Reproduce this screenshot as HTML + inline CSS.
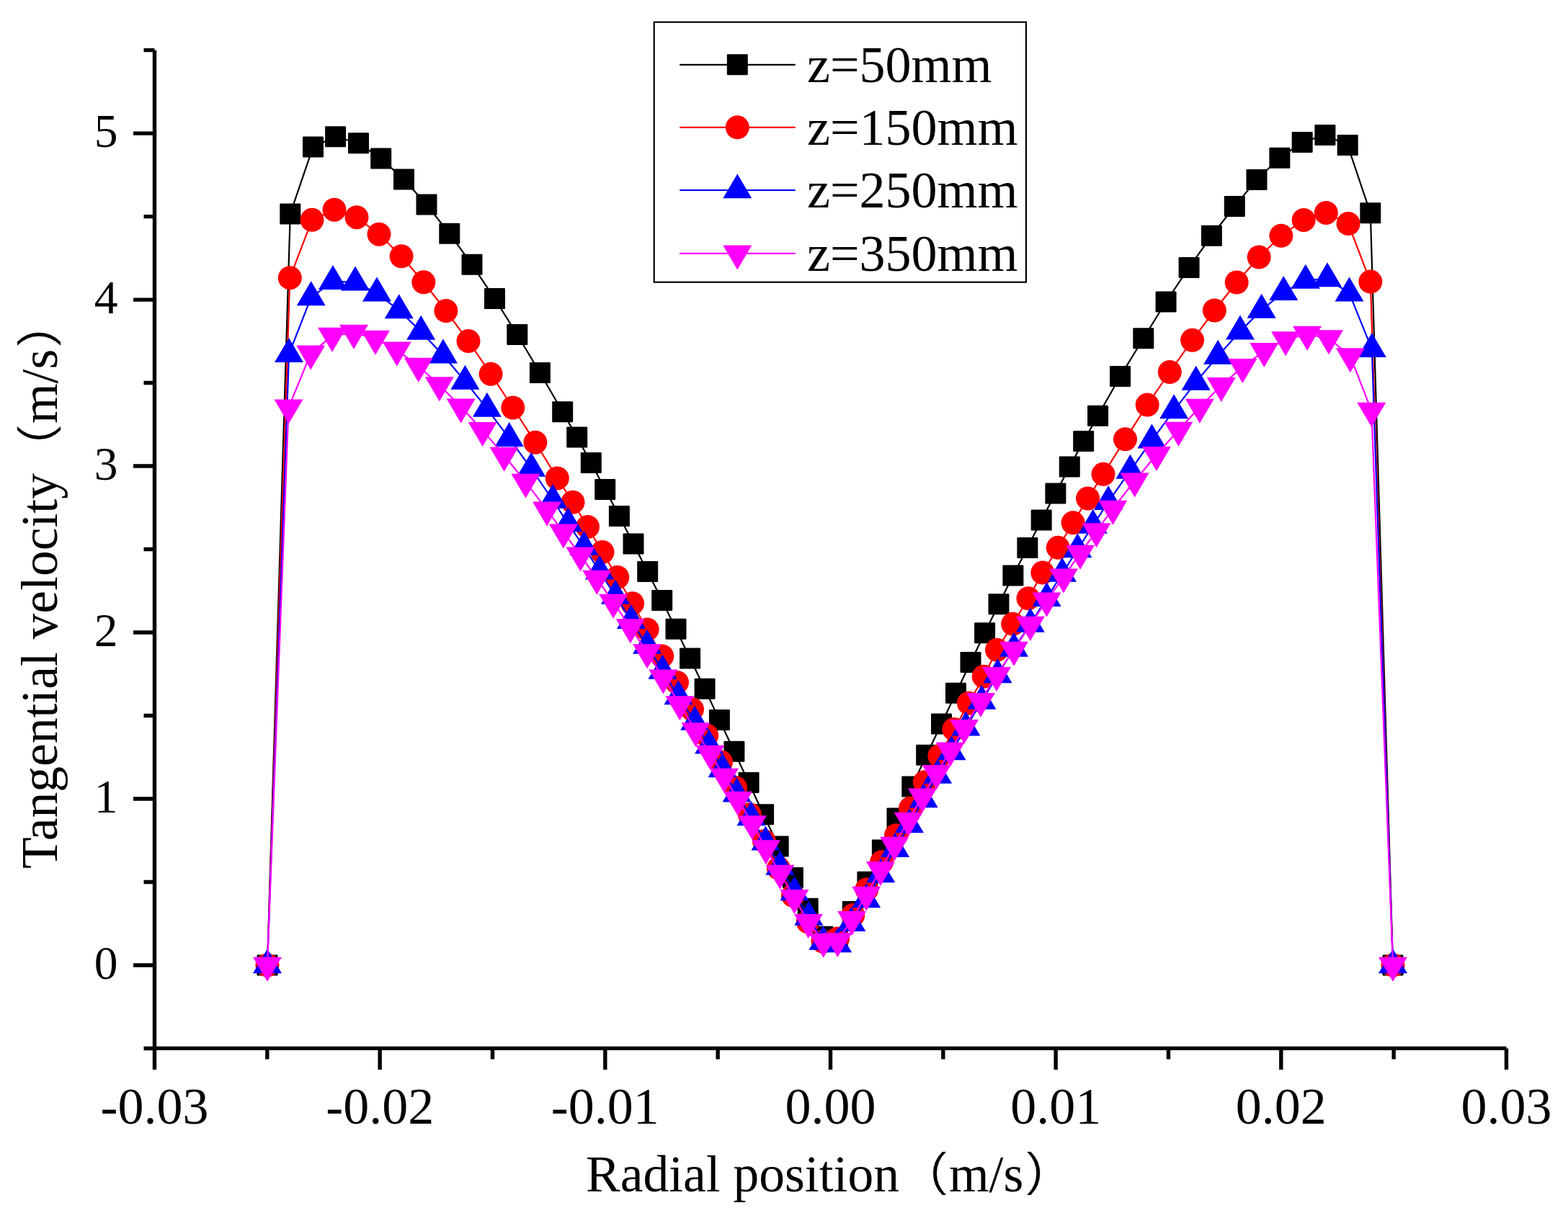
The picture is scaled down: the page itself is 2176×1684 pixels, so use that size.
<!DOCTYPE html>
<html><head><meta charset="utf-8"><title>Tangential velocity</title>
<style>
html,body{margin:0;padding:0;background:#fff;width:2176px;height:1684px;overflow:hidden;}
svg{display:block;}
text{font-family:"Liberation Serif","Times New Roman",serif;fill:#000;}
.cjk{font-family:"IPAGothic","Noto Serif CJK SC",sans-serif;font-size:67px;}
</style></head><body>
<svg width="2176" height="1684" viewBox="0 0 2176 1684">
<rect width="2176" height="1684" fill="#fff"/>
<path d="M199.5 1455.49H214.5M185 1340H214.5M199.5 1224.51H214.5M185 1109.02H214.5M199.5 993.53H214.5M185 878.04H214.5M199.5 762.55H214.5M185 647.06H214.5M199.5 531.57H214.5M185 416.08H214.5M199.5 300.59H214.5M185 185.1H214.5M199.5 69.61H214.5M214.5 1455.4V1484.9M370.83 1455.4V1470.4M527.17 1455.4V1484.9M683.5 1455.4V1470.4M839.83 1455.4V1484.9M996.17 1455.4V1470.4M1152.5 1455.4V1484.9M1308.83 1455.4V1470.4M1465.17 1455.4V1484.9M1621.5 1455.4V1470.4M1777.84 1455.4V1484.9M1934.17 1455.4V1470.4M2090.5 1455.4V1484.9" stroke="#000" stroke-width="5.4" fill="none"/>
<path d="M214.5 69.8V1458.1 M211.8 1455.4H2090.5" stroke="#000" stroke-width="5.4" fill="none"/>
<text x="163.5" y="1359" font-size="65.5" text-anchor="end">0</text>
<text x="163.5" y="1128.02" font-size="65.5" text-anchor="end">1</text>
<text x="163.5" y="897.04" font-size="65.5" text-anchor="end">2</text>
<text x="163.5" y="666.06" font-size="65.5" text-anchor="end">3</text>
<text x="163.5" y="435.08" font-size="65.5" text-anchor="end">4</text>
<text x="163.5" y="204.1" font-size="65.5" text-anchor="end">5</text>
<text x="214.5" y="1559.7" font-size="72" text-anchor="middle">-0.03</text>
<text x="527.17" y="1559.7" font-size="72" text-anchor="middle">-0.02</text>
<text x="839.83" y="1559.7" font-size="72" text-anchor="middle">-0.01</text>
<text x="1152.5" y="1559.7" font-size="72" text-anchor="middle">0.00</text>
<text x="1465.17" y="1559.7" font-size="72" text-anchor="middle">0.01</text>
<text x="1777.84" y="1559.7" font-size="72" text-anchor="middle">0.02</text>
<text x="2090.5" y="1559.7" font-size="72" text-anchor="middle">0.03</text>
<text transform="translate(78.7 1206) rotate(-90)" font-size="71.5">Tangential velocity<tspan class="cjk" dx="3">（</tspan><tspan dx="-1">m/s</tspan><tspan class="cjk">）</tspan></text>
<text x="813" y="1653.8" font-size="71.5">Radial position<tspan class="cjk" dx="3">（</tspan><tspan dx="-1">m/s</tspan><tspan class="cjk">）</tspan></text>
<polyline points="371,1340 402.8,296.9 434.5,203.9 465.6,189.7 497.5,198.8 528.7,220 560.5,249.1 592,284.1 623.8,324.2 655,367.3 686.5,414.6 717.8,464.5 749.4,517.6 780.7,571.8 800.7,606.9 820.3,642.5 839.7,679.5 859.4,716.6 879,755.1 898.7,793.5 918.7,833.4 938,873.3 957.6,914.1 978.1,956.3 998.4,999.6 1018.9,1043.2 1039.1,1086.5 1059.6,1130.7 1080.2,1174.9 1100.4,1218.5 1121.2,1261.2 1141.9,1300.2 1162.5,1303 1183.3,1265.6 1203.9,1224.2 1224.4,1180 1245,1136.1 1265.8,1091.9 1285.7,1048.3 1306.5,1005 1326.5,962.3 1347,919.5 1366.6,878.8 1386,838.7 1405.9,799 1425.9,760.6 1445.2,722.1 1464.9,685.1 1484.3,648 1503.7,612.4 1523.6,577.3 1554.6,522.5 1586.8,469.7 1618.1,419 1650.1,371.4 1681.4,327.3 1713.3,286.5 1744,249.5 1775.9,219.3 1807.2,197.4 1838.9,187.4 1870.2,201.6 1901.8,295.7 1933,1340" fill="none" stroke="#000000" stroke-width="2.2" stroke-linejoin="round"/>
<g fill="#000000"><rect x="356.5" y="1325.5" width="29" height="29" rx="1.2"/><rect x="388.3" y="282.4" width="29" height="29" rx="1.2"/><rect x="420" y="189.4" width="29" height="29" rx="1.2"/><rect x="451.1" y="175.2" width="29" height="29" rx="1.2"/><rect x="483" y="184.3" width="29" height="29" rx="1.2"/><rect x="514.2" y="205.5" width="29" height="29" rx="1.2"/><rect x="546" y="234.6" width="29" height="29" rx="1.2"/><rect x="577.5" y="269.6" width="29" height="29" rx="1.2"/><rect x="609.3" y="309.7" width="29" height="29" rx="1.2"/><rect x="640.5" y="352.8" width="29" height="29" rx="1.2"/><rect x="672" y="400.1" width="29" height="29" rx="1.2"/><rect x="703.3" y="450" width="29" height="29" rx="1.2"/><rect x="734.9" y="503.1" width="29" height="29" rx="1.2"/><rect x="766.2" y="557.3" width="29" height="29" rx="1.2"/><rect x="786.2" y="592.4" width="29" height="29" rx="1.2"/><rect x="805.8" y="628" width="29" height="29" rx="1.2"/><rect x="825.2" y="665" width="29" height="29" rx="1.2"/><rect x="844.9" y="702.1" width="29" height="29" rx="1.2"/><rect x="864.5" y="740.6" width="29" height="29" rx="1.2"/><rect x="884.2" y="779" width="29" height="29" rx="1.2"/><rect x="904.2" y="818.9" width="29" height="29" rx="1.2"/><rect x="923.5" y="858.8" width="29" height="29" rx="1.2"/><rect x="943.1" y="899.6" width="29" height="29" rx="1.2"/><rect x="963.6" y="941.8" width="29" height="29" rx="1.2"/><rect x="983.9" y="985.1" width="29" height="29" rx="1.2"/><rect x="1004.4" y="1028.7" width="29" height="29" rx="1.2"/><rect x="1024.6" y="1072" width="29" height="29" rx="1.2"/><rect x="1045.1" y="1116.2" width="29" height="29" rx="1.2"/><rect x="1065.7" y="1160.4" width="29" height="29" rx="1.2"/><rect x="1085.9" y="1204" width="29" height="29" rx="1.2"/><rect x="1106.7" y="1246.7" width="29" height="29" rx="1.2"/><rect x="1127.4" y="1285.7" width="29" height="29" rx="1.2"/><rect x="1148" y="1288.5" width="29" height="29" rx="1.2"/><rect x="1168.8" y="1251.1" width="29" height="29" rx="1.2"/><rect x="1189.4" y="1209.7" width="29" height="29" rx="1.2"/><rect x="1209.9" y="1165.5" width="29" height="29" rx="1.2"/><rect x="1230.5" y="1121.6" width="29" height="29" rx="1.2"/><rect x="1251.3" y="1077.4" width="29" height="29" rx="1.2"/><rect x="1271.2" y="1033.8" width="29" height="29" rx="1.2"/><rect x="1292" y="990.5" width="29" height="29" rx="1.2"/><rect x="1312" y="947.8" width="29" height="29" rx="1.2"/><rect x="1332.5" y="905" width="29" height="29" rx="1.2"/><rect x="1352.1" y="864.3" width="29" height="29" rx="1.2"/><rect x="1371.5" y="824.2" width="29" height="29" rx="1.2"/><rect x="1391.4" y="784.5" width="29" height="29" rx="1.2"/><rect x="1411.4" y="746.1" width="29" height="29" rx="1.2"/><rect x="1430.7" y="707.6" width="29" height="29" rx="1.2"/><rect x="1450.4" y="670.6" width="29" height="29" rx="1.2"/><rect x="1469.8" y="633.5" width="29" height="29" rx="1.2"/><rect x="1489.2" y="597.9" width="29" height="29" rx="1.2"/><rect x="1509.1" y="562.8" width="29" height="29" rx="1.2"/><rect x="1540.1" y="508" width="29" height="29" rx="1.2"/><rect x="1572.3" y="455.2" width="29" height="29" rx="1.2"/><rect x="1603.6" y="404.5" width="29" height="29" rx="1.2"/><rect x="1635.6" y="356.9" width="29" height="29" rx="1.2"/><rect x="1666.9" y="312.8" width="29" height="29" rx="1.2"/><rect x="1698.8" y="272" width="29" height="29" rx="1.2"/><rect x="1729.5" y="235" width="29" height="29" rx="1.2"/><rect x="1761.4" y="204.8" width="29" height="29" rx="1.2"/><rect x="1792.7" y="182.9" width="29" height="29" rx="1.2"/><rect x="1824.4" y="172.9" width="29" height="29" rx="1.2"/><rect x="1855.7" y="187.1" width="29" height="29" rx="1.2"/><rect x="1887.3" y="281.2" width="29" height="29" rx="1.2"/><rect x="1918.5" y="1325.5" width="29" height="29" rx="1.2"/></g>
<polyline points="371,1340 402.3,385.7 433,305.3 464,291.2 495,301.7 526,325.2 557.1,355.8 587.9,391.8 618.9,431.5 650,473.6 681.1,519.2 711.8,566 742.9,614.2 773.3,663.9 795,697.2 815.5,731.4 836,766.5 856.8,801.5 877.6,837.7 898.1,873.9 918.7,910.9 939.5,947.4 960.5,984.8 980.7,1021 1000.6,1058 1020.6,1093.6 1040.3,1130.7 1060.5,1167.7 1080.4,1205.3 1100.4,1243.3 1121.2,1279.8 1142,1307 1162.6,1303 1183.8,1270.4 1202.8,1234.7 1223.6,1196.8 1243.5,1159.7 1263.5,1122.1 1283.4,1085.7 1303.9,1049.5 1323.9,1012.4 1344.4,976.2 1365.2,939.2 1383.5,902.3 1405.6,866.3 1427,830.7 1446.9,795.1 1468.3,760.3 1489.1,725.8 1509.6,691.9 1531,658.3 1561.5,609.8 1592.2,562.1 1623.3,516.5 1654.6,472.3 1685.4,431 1716.2,392 1747.2,357 1777.9,327.3 1809.2,305.4 1840.3,295.4 1871.1,310.5 1901.8,391.1 1933,1340" fill="none" stroke="#ff0000" stroke-width="2.2" stroke-linejoin="round"/>
<g fill="#ff0000"><circle cx="371" cy="1340" r="16.5"/><circle cx="402.3" cy="385.7" r="16.5"/><circle cx="433" cy="305.3" r="16.5"/><circle cx="464" cy="291.2" r="16.5"/><circle cx="495" cy="301.7" r="16.5"/><circle cx="526" cy="325.2" r="16.5"/><circle cx="557.1" cy="355.8" r="16.5"/><circle cx="587.9" cy="391.8" r="16.5"/><circle cx="618.9" cy="431.5" r="16.5"/><circle cx="650" cy="473.6" r="16.5"/><circle cx="681.1" cy="519.2" r="16.5"/><circle cx="711.8" cy="566" r="16.5"/><circle cx="742.9" cy="614.2" r="16.5"/><circle cx="773.3" cy="663.9" r="16.5"/><circle cx="795" cy="697.2" r="16.5"/><circle cx="815.5" cy="731.4" r="16.5"/><circle cx="836" cy="766.5" r="16.5"/><circle cx="856.8" cy="801.5" r="16.5"/><circle cx="877.6" cy="837.7" r="16.5"/><circle cx="898.1" cy="873.9" r="16.5"/><circle cx="918.7" cy="910.9" r="16.5"/><circle cx="939.5" cy="947.4" r="16.5"/><circle cx="960.5" cy="984.8" r="16.5"/><circle cx="980.7" cy="1021" r="16.5"/><circle cx="1000.6" cy="1058" r="16.5"/><circle cx="1020.6" cy="1093.6" r="16.5"/><circle cx="1040.3" cy="1130.7" r="16.5"/><circle cx="1060.5" cy="1167.7" r="16.5"/><circle cx="1080.4" cy="1205.3" r="16.5"/><circle cx="1100.4" cy="1243.3" r="16.5"/><circle cx="1121.2" cy="1279.8" r="16.5"/><circle cx="1142" cy="1307" r="16.5"/><circle cx="1162.6" cy="1303" r="16.5"/><circle cx="1183.8" cy="1270.4" r="16.5"/><circle cx="1202.8" cy="1234.7" r="16.5"/><circle cx="1223.6" cy="1196.8" r="16.5"/><circle cx="1243.5" cy="1159.7" r="16.5"/><circle cx="1263.5" cy="1122.1" r="16.5"/><circle cx="1283.4" cy="1085.7" r="16.5"/><circle cx="1303.9" cy="1049.5" r="16.5"/><circle cx="1323.9" cy="1012.4" r="16.5"/><circle cx="1344.4" cy="976.2" r="16.5"/><circle cx="1365.2" cy="939.2" r="16.5"/><circle cx="1383.5" cy="902.3" r="16.5"/><circle cx="1405.6" cy="866.3" r="16.5"/><circle cx="1427" cy="830.7" r="16.5"/><circle cx="1446.9" cy="795.1" r="16.5"/><circle cx="1468.3" cy="760.3" r="16.5"/><circle cx="1489.1" cy="725.8" r="16.5"/><circle cx="1509.6" cy="691.9" r="16.5"/><circle cx="1531" cy="658.3" r="16.5"/><circle cx="1561.5" cy="609.8" r="16.5"/><circle cx="1592.2" cy="562.1" r="16.5"/><circle cx="1623.3" cy="516.5" r="16.5"/><circle cx="1654.6" cy="472.3" r="16.5"/><circle cx="1685.4" cy="431" r="16.5"/><circle cx="1716.2" cy="392" r="16.5"/><circle cx="1747.2" cy="357" r="16.5"/><circle cx="1777.9" cy="327.3" r="16.5"/><circle cx="1809.2" cy="305.4" r="16.5"/><circle cx="1840.3" cy="295.4" r="16.5"/><circle cx="1871.1" cy="310.5" r="16.5"/><circle cx="1901.8" cy="391.1" r="16.5"/><circle cx="1933" cy="1340" r="16.5"/></g>
<polyline points="371,1340 401,491.7 431.7,412.9 462,390.7 493,392.1 523,407.1 553.7,430.8 584.2,460.4 615,493.2 645.4,529.4 675.9,567.3 706.7,608.6 737.2,650.5 767,694.3 788.4,726.8 810.4,759.5 832,793.2 854,827.4 875.9,861.6 898.1,896.3 919.5,931.4 941.5,966.8 964.2,1002.4 984.1,1035.2 1002.6,1068 1022.6,1102.2 1042.5,1135 1062.5,1169.2 1082.4,1203.3 1102.4,1239 1122.3,1273.5 1142.4,1307.5 1162.2,1310.9 1181.4,1281.7 1202.2,1249 1222.2,1213.9 1242.1,1178.6 1262,1144.9 1281.7,1109.9 1301.1,1076.5 1320.5,1043.8 1340.4,1010.1 1362.4,973.4 1384.5,937 1407,900.5 1429.8,866.3 1452.6,830.7 1474,796.5 1495.4,762.9 1516.8,729.5 1538.1,696.7 1568.5,653.5 1598.5,611.1 1629.2,569.8 1659.7,530.4 1690.2,494.3 1721,460.1 1750.7,430.3 1781.3,405.7 1811.8,389.4 1842,386.9 1872.5,407.1 1903.8,484.7 1933,1340" fill="none" stroke="#0000ff" stroke-width="2.2" stroke-linejoin="round"/>
<g fill="#0000ff"><polygon points="371,1317.33 391,1351.33 351,1351.33"/><polygon points="401,469.03 421,503.03 381,503.03"/><polygon points="431.7,390.23 451.7,424.23 411.7,424.23"/><polygon points="462,368.03 482,402.03 442,402.03"/><polygon points="493,369.43 513,403.43 473,403.43"/><polygon points="523,384.43 543,418.43 503,418.43"/><polygon points="553.7,408.13 573.7,442.13 533.7,442.13"/><polygon points="584.2,437.73 604.2,471.73 564.2,471.73"/><polygon points="615,470.53 635,504.53 595,504.53"/><polygon points="645.4,506.73 665.4,540.73 625.4,540.73"/><polygon points="675.9,544.63 695.9,578.63 655.9,578.63"/><polygon points="706.7,585.93 726.7,619.93 686.7,619.93"/><polygon points="737.2,627.83 757.2,661.83 717.2,661.83"/><polygon points="767,671.63 787,705.63 747,705.63"/><polygon points="788.4,704.13 808.4,738.13 768.4,738.13"/><polygon points="810.4,736.83 830.4,770.83 790.4,770.83"/><polygon points="832,770.53 852,804.53 812,804.53"/><polygon points="854,804.73 874,838.73 834,838.73"/><polygon points="875.9,838.93 895.9,872.93 855.9,872.93"/><polygon points="898.1,873.63 918.1,907.63 878.1,907.63"/><polygon points="919.5,908.73 939.5,942.73 899.5,942.73"/><polygon points="941.5,944.13 961.5,978.13 921.5,978.13"/><polygon points="964.2,979.73 984.2,1013.73 944.2,1013.73"/><polygon points="984.1,1012.53 1004.1,1046.53 964.1,1046.53"/><polygon points="1002.6,1045.33 1022.6,1079.33 982.6,1079.33"/><polygon points="1022.6,1079.53 1042.6,1113.53 1002.6,1113.53"/><polygon points="1042.5,1112.33 1062.5,1146.33 1022.5,1146.33"/><polygon points="1062.5,1146.53 1082.5,1180.53 1042.5,1180.53"/><polygon points="1082.4,1180.63 1102.4,1214.63 1062.4,1214.63"/><polygon points="1102.4,1216.33 1122.4,1250.33 1082.4,1250.33"/><polygon points="1122.3,1250.83 1142.3,1284.83 1102.3,1284.83"/><polygon points="1142.4,1284.83 1162.4,1318.83 1122.4,1318.83"/><polygon points="1162.2,1288.23 1182.2,1322.23 1142.2,1322.23"/><polygon points="1181.4,1259.03 1201.4,1293.03 1161.4,1293.03"/><polygon points="1202.2,1226.33 1222.2,1260.33 1182.2,1260.33"/><polygon points="1222.2,1191.23 1242.2,1225.23 1202.2,1225.23"/><polygon points="1242.1,1155.93 1262.1,1189.93 1222.1,1189.93"/><polygon points="1262,1122.23 1282,1156.23 1242,1156.23"/><polygon points="1281.7,1087.23 1301.7,1121.23 1261.7,1121.23"/><polygon points="1301.1,1053.83 1321.1,1087.83 1281.1,1087.83"/><polygon points="1320.5,1021.13 1340.5,1055.13 1300.5,1055.13"/><polygon points="1340.4,987.43 1360.4,1021.43 1320.4,1021.43"/><polygon points="1362.4,950.73 1382.4,984.73 1342.4,984.73"/><polygon points="1384.5,914.33 1404.5,948.33 1364.5,948.33"/><polygon points="1407,877.83 1427,911.83 1387,911.83"/><polygon points="1429.8,843.63 1449.8,877.63 1409.8,877.63"/><polygon points="1452.6,808.03 1472.6,842.03 1432.6,842.03"/><polygon points="1474,773.83 1494,807.83 1454,807.83"/><polygon points="1495.4,740.23 1515.4,774.23 1475.4,774.23"/><polygon points="1516.8,706.83 1536.8,740.83 1496.8,740.83"/><polygon points="1538.1,674.03 1558.1,708.03 1518.1,708.03"/><polygon points="1568.5,630.83 1588.5,664.83 1548.5,664.83"/><polygon points="1598.5,588.43 1618.5,622.43 1578.5,622.43"/><polygon points="1629.2,547.13 1649.2,581.13 1609.2,581.13"/><polygon points="1659.7,507.73 1679.7,541.73 1639.7,541.73"/><polygon points="1690.2,471.63 1710.2,505.63 1670.2,505.63"/><polygon points="1721,437.43 1741,471.43 1701,471.43"/><polygon points="1750.7,407.63 1770.7,441.63 1730.7,441.63"/><polygon points="1781.3,383.03 1801.3,417.03 1761.3,417.03"/><polygon points="1811.8,366.73 1831.8,400.73 1791.8,400.73"/><polygon points="1842,364.23 1862,398.23 1822,398.23"/><polygon points="1872.5,384.43 1892.5,418.43 1852.5,418.43"/><polygon points="1903.8,462.03 1923.8,496.03 1883.8,496.03"/><polygon points="1933,1317.33 1953,1351.33 1913,1351.33"/></g>
<polyline points="371,1340 400.5,565.9 431.2,490.8 461,466.2 491,462 521,470.1 550.8,485.8 580.8,508.2 609.8,534.7 639.7,564.8 669.7,597.4 699.6,632.2 729.5,669.2 759,707.8 781.9,738.9 805.5,770.9 828.3,803 851.1,836.1 874.8,870.7 898.1,905.6 920.4,940.9 943.4,977.6 965.6,1014.7 985.5,1046 1005,1078 1024,1110.2 1044,1143.5 1063,1177.7 1082.4,1212.2 1102.4,1246.4 1121.8,1280.3 1142.7,1307 1162.4,1306.4 1182.2,1276.3 1202.2,1242 1221.9,1207.3 1241.2,1173.1 1260.6,1139 1280,1105.9 1299.7,1073.4 1318.8,1041.8 1338.1,1010.4 1360.9,973.4 1383,937.3 1407,902.2 1429.8,867.2 1452.6,833.8 1476,800.8 1499.1,768 1521.6,737.5 1544.4,706.1 1574.6,667.8 1605,631.3 1635.5,597.1 1664.9,565.2 1694.8,535.3 1724.4,509.4 1754.3,487.3 1784.1,471.5 1814.1,464.1 1844,469.5 1873.9,494.6 1903.3,570.1 1933,1340" fill="none" stroke="#ff00ff" stroke-width="2.2" stroke-linejoin="round"/>
<g fill="#ff00ff"><polygon points="371,1362.67 391,1328.67 351,1328.67"/><polygon points="400.5,588.57 420.5,554.57 380.5,554.57"/><polygon points="431.2,513.47 451.2,479.47 411.2,479.47"/><polygon points="461,488.87 481,454.87 441,454.87"/><polygon points="491,484.67 511,450.67 471,450.67"/><polygon points="521,492.77 541,458.77 501,458.77"/><polygon points="550.8,508.47 570.8,474.47 530.8,474.47"/><polygon points="580.8,530.87 600.8,496.87 560.8,496.87"/><polygon points="609.8,557.37 629.8,523.37 589.8,523.37"/><polygon points="639.7,587.47 659.7,553.47 619.7,553.47"/><polygon points="669.7,620.07 689.7,586.07 649.7,586.07"/><polygon points="699.6,654.87 719.6,620.87 679.6,620.87"/><polygon points="729.5,691.87 749.5,657.87 709.5,657.87"/><polygon points="759,730.47 779,696.47 739,696.47"/><polygon points="781.9,761.57 801.9,727.57 761.9,727.57"/><polygon points="805.5,793.57 825.5,759.57 785.5,759.57"/><polygon points="828.3,825.67 848.3,791.67 808.3,791.67"/><polygon points="851.1,858.77 871.1,824.77 831.1,824.77"/><polygon points="874.8,893.37 894.8,859.37 854.8,859.37"/><polygon points="898.1,928.27 918.1,894.27 878.1,894.27"/><polygon points="920.4,963.57 940.4,929.57 900.4,929.57"/><polygon points="943.4,1000.27 963.4,966.27 923.4,966.27"/><polygon points="965.6,1037.37 985.6,1003.37 945.6,1003.37"/><polygon points="985.5,1068.67 1005.5,1034.67 965.5,1034.67"/><polygon points="1005,1100.67 1025,1066.67 985,1066.67"/><polygon points="1024,1132.87 1044,1098.87 1004,1098.87"/><polygon points="1044,1166.17 1064,1132.17 1024,1132.17"/><polygon points="1063,1200.37 1083,1166.37 1043,1166.37"/><polygon points="1082.4,1234.87 1102.4,1200.87 1062.4,1200.87"/><polygon points="1102.4,1269.07 1122.4,1235.07 1082.4,1235.07"/><polygon points="1121.8,1302.97 1141.8,1268.97 1101.8,1268.97"/><polygon points="1142.7,1329.67 1162.7,1295.67 1122.7,1295.67"/><polygon points="1162.4,1329.07 1182.4,1295.07 1142.4,1295.07"/><polygon points="1182.2,1298.97 1202.2,1264.97 1162.2,1264.97"/><polygon points="1202.2,1264.67 1222.2,1230.67 1182.2,1230.67"/><polygon points="1221.9,1229.97 1241.9,1195.97 1201.9,1195.97"/><polygon points="1241.2,1195.77 1261.2,1161.77 1221.2,1161.77"/><polygon points="1260.6,1161.67 1280.6,1127.67 1240.6,1127.67"/><polygon points="1280,1128.57 1300,1094.57 1260,1094.57"/><polygon points="1299.7,1096.07 1319.7,1062.07 1279.7,1062.07"/><polygon points="1318.8,1064.47 1338.8,1030.47 1298.8,1030.47"/><polygon points="1338.1,1033.07 1358.1,999.07 1318.1,999.07"/><polygon points="1360.9,996.07 1380.9,962.07 1340.9,962.07"/><polygon points="1383,959.97 1403,925.97 1363,925.97"/><polygon points="1407,924.87 1427,890.87 1387,890.87"/><polygon points="1429.8,889.87 1449.8,855.87 1409.8,855.87"/><polygon points="1452.6,856.47 1472.6,822.47 1432.6,822.47"/><polygon points="1476,823.47 1496,789.47 1456,789.47"/><polygon points="1499.1,790.67 1519.1,756.67 1479.1,756.67"/><polygon points="1521.6,760.17 1541.6,726.17 1501.6,726.17"/><polygon points="1544.4,728.77 1564.4,694.77 1524.4,694.77"/><polygon points="1574.6,690.47 1594.6,656.47 1554.6,656.47"/><polygon points="1605,653.97 1625,619.97 1585,619.97"/><polygon points="1635.5,619.77 1655.5,585.77 1615.5,585.77"/><polygon points="1664.9,587.87 1684.9,553.87 1644.9,553.87"/><polygon points="1694.8,557.97 1714.8,523.97 1674.8,523.97"/><polygon points="1724.4,532.07 1744.4,498.07 1704.4,498.07"/><polygon points="1754.3,509.97 1774.3,475.97 1734.3,475.97"/><polygon points="1784.1,494.17 1804.1,460.17 1764.1,460.17"/><polygon points="1814.1,486.77 1834.1,452.77 1794.1,452.77"/><polygon points="1844,492.17 1864,458.17 1824,458.17"/><polygon points="1873.9,517.27 1893.9,483.27 1853.9,483.27"/><polygon points="1903.3,592.77 1923.3,558.77 1883.3,558.77"/><polygon points="1933,1362.67 1953,1328.67 1913,1328.67"/></g>
<rect x="907.7" y="30.7" width="516.3" height="361" fill="#fff" stroke="#000" stroke-width="2.2"/>
<line x1="944" y1="89.8" x2="1103" y2="89.8" stroke="#000000" stroke-width="2.2" stroke-linecap="round"/>
<g fill="#000000"><rect x="1008.8" y="75.3" width="29" height="29" rx="1.2"/></g>
<text x="1120" y="113.6" font-size="72">z=50mm</text>
<line x1="944" y1="176.8" x2="1103" y2="176.8" stroke="#ff0000" stroke-width="2.2" stroke-linecap="round"/>
<g fill="#ff0000"><circle cx="1023.3" cy="176.8" r="16.5"/></g>
<text x="1120" y="200.6" font-size="72">z=150mm</text>
<line x1="944" y1="264" x2="1103" y2="264" stroke="#0000ff" stroke-width="2.2" stroke-linecap="round"/>
<g fill="#0000ff"><polygon points="1023.3,241.33 1043.3,275.33 1003.3,275.33"/></g>
<text x="1120" y="287.8" font-size="72">z=250mm</text>
<line x1="944" y1="351.8" x2="1103" y2="351.8" stroke="#ff00ff" stroke-width="2.2" stroke-linecap="round"/>
<g fill="#ff00ff"><polygon points="1023.3,374.47 1043.3,340.47 1003.3,340.47"/></g>
<text x="1120" y="375.6" font-size="72">z=350mm</text>
</svg>
</body></html>
